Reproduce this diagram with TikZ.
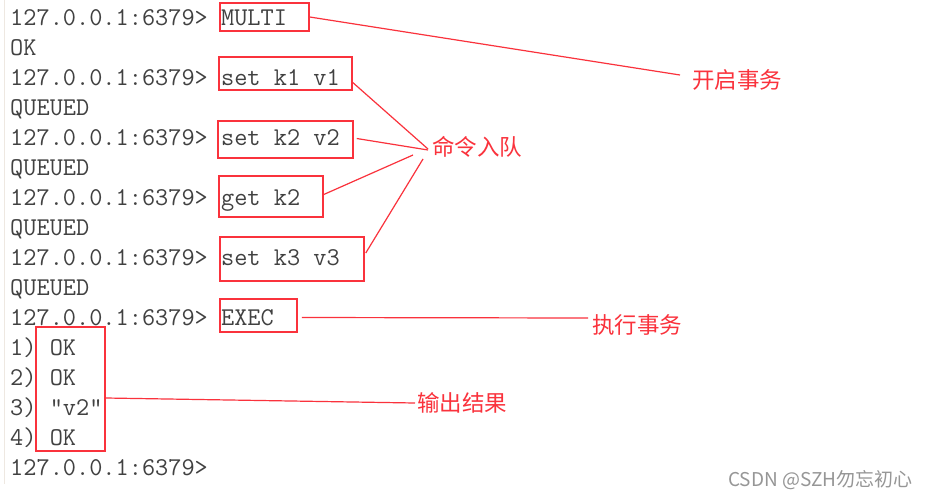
\documentclass[tikz,border=0pt]{standalone}
\usepackage{fontspec}
\usetikzlibrary{fit}
\newfontfamily\cjk{Noto Sans CJK SC}
\definecolor{mark}{RGB}{250,50,60}
\definecolor{term}{RGB}{65,65,65}
\definecolor{wm}{RGB}{150,150,150}
\definecolor{edge}{RGB}{238,232,225}
\tikzset{
  cmdline/.style={anchor=base west, inner sep=0pt, text=term,
    font=\ttfamily\fontsize{25.6}{26}\selectfont},
  redbox/.style={draw=mark, line width=1.5pt, inner sep=0pt},
  link/.style={draw=mark, line width=1.2pt},
  lbl/.style={anchor=west, inner sep=0pt, text=mark,
    font=\cjk\fontsize{22.5}{23}\selectfont},
}
\begin{document}
\begin{tikzpicture}[x=1pt,y=-1pt]
\useasboundingbox (0,0) rectangle (931,498);
\fill[white] (0,0) rectangle (931,498);
\draw[edge, line width=1pt] (4,0) -- (4,484);
% terminal lines
\node[cmdline] (l0) at (10,25) {127.0.0.1:6379> MULTI};
\node[cmdline] (l1) at (10,55) {OK};
\node[cmdline] (l2) at (10,85) {127.0.0.1:6379> set k1 v1};
\node[cmdline] (l3) at (10,115) {QUEUED};
\node[cmdline] (l4) at (10,145) {127.0.0.1:6379> set k2 v2};
\node[cmdline] (l5) at (10,175) {QUEUED};
\node[cmdline] (l6) at (10,205) {127.0.0.1:6379> get k2};
\node[cmdline] (l7) at (10,235) {QUEUED};
\node[cmdline] (l8) at (10,265) {127.0.0.1:6379> set k3 v3};
\node[cmdline] (l9) at (10,295) {QUEUED};
\node[cmdline] (l10) at (10,325) {127.0.0.1:6379> EXEC};
\node[cmdline] (l11) at (10,355) {1) OK};
\node[cmdline] (l12) at (10,385) {2) OK};
\node[cmdline] (l13) at (10,415) {3) "v2"};
\node[cmdline] (l14) at (10,445) {4) OK};
\node[cmdline] (l15) at (10,475) {127.0.0.1:6379>};
% boxes
\node[redbox, fit={(220,3) (309,31)}] (bmulti) {};
\node[redbox, fit={(219,57) (352,90)}] (bk1) {};
\node[redbox, fit={(218,121) (353,158)}] (bk2) {};
\node[redbox, fit={(219,176) (323,217)}] (bget) {};
\node[redbox, fit={(220,237) (364,281)}] (bk3) {};
\node[redbox, fit={(220,299) (297,332)}] (bexec) {};
\node[redbox, fit={(36,327) (105,451)}] (bout) {};
% labels
\node[lbl] (tstart) at (692,80) {开启事务};
\node[lbl] (tqueue) at (432,147) {命令入队};
\node[lbl] (texec) at (592,325) {执行事务};
\node[lbl] (tout) at (417,403) {输出结果};
\node[anchor=west, inner sep=0pt, text=wm, font=\cjk\fontsize{19}{20}\selectfont] (wmark) at (728,480) {CSDN @SZH勿忘初心};
% connector ends
\coordinate (e0) at (680,75);
\coordinate (q1) at (428,149);
\coordinate (q2) at (428,150);
\coordinate (q3) at (413,155);
\coordinate (q4) at (423,159);
\coordinate (e5) at (588,318);
\coordinate (e6) at (415,403);
% connectors
\draw[link] (bmulti.east) -- (e0);
\draw[link] (bk1.east) ++(0,9) -- (q1);
\draw[link] (bk2.east) ++(3,-1) -- (q2);
\draw[link] (bget.east) ++(0,-2) -- (q3);
\draw[link] (bk3.east) ++(1,-6) -- (q4);
\draw[link] (bexec.east) ++(4,2) -- (e5);
\draw[link] (bout.east) ++(0,9) -- (e6);
\end{tikzpicture}
\end{document}
